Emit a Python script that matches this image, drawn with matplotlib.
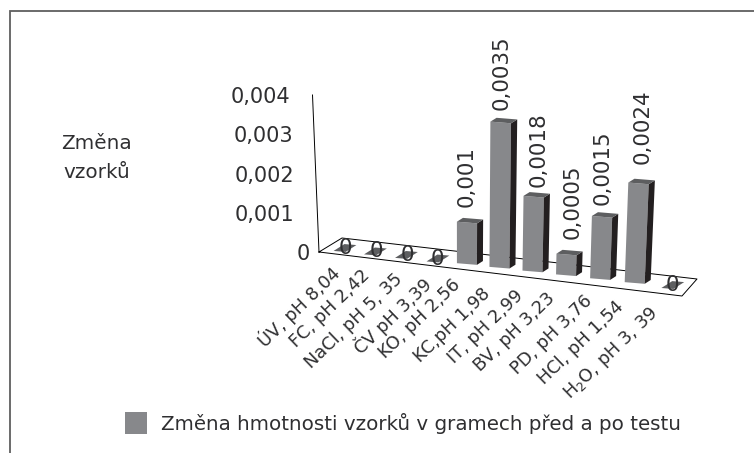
import matplotlib
matplotlib.use("Agg")
import matplotlib.pyplot as plt

categories = ["ÚV, pH 8,04", "FC, pH 2,42", "NaCl, pH 5, 35", "ČV pH 3,39", "KO, pH 2,56", "KC,pH 1,98",
              "IT, pH 2,99", "BV, pH 3,23", "PD, pH 3,76", "HCl, pH 1,54", "H$_2$O, pH 3, 39"]
values = [0, 0, 0, 0, 0.001, 0.0035, 0.0018, 0.0005, 0.0015, 0.0024, 0]
value_labels = ["0", "0", "0", "0", "0,001", "0,0035", "0,0018", "0,0005", "0,0015", "0,0024", "0"]
ticks = [0, 0.001, 0.002, 0.003, 0.004]
tick_labels = ["0", "0,001", "0,002", "0,003", "0,004"]
legend_label = "Změna hmotnosti vzorků v gramech před a po testu"
axis_label = "Změna\nvzorků"

FRONT = "#87888b"
TOP = "#5d5e60"
SIDE = "#231f20"
INK = "#2f2f31"

plt.rcParams["font.family"] = "DejaVu Sans"
plt.rcParams["mathtext.default"] = "regular"

fig = plt.figure(figsize=(7.54, 4.53), dpi=100)
ax = fig.add_axes([0, 0, 1, 1])
ax.set_xlim(0, 754)
ax.set_ylim(453, 0)
ax.axis("off")


# fake 3D: category + value + depth -> picture position
def proj(i, v=0, w=0, d=0):
    x = 345 + 30.2 * i + 0.258 * i * i + w * 10 + d * 3
    y = 248 + 0.113 * (x - 345) - (w * 0.3 + d * 2.25)
    h = v / 0.001 * 41.5
    return x + 0.00022 * (x - 460) * h, y - h


def face(points, color):
    ax.fill([p[0] for p in points], [p[1] for p in points], color=color, lw=0, zorder=3)


# frame
ax.plot([10, 10, 754], [453, 11, 11], color="#5f5f5f", lw=1.3, solid_joinstyle="miter")

# floor and wall line
ax.plot([319, 342, 697, 682, 319], [252, 238, 279, 296, 252], color="black", lw=0.7, zorder=2)
ax.plot([319, 312.5], [252, 95], color="black", lw=0.7, zorder=2)

# bars
for i, v in enumerate(values):
    if v == 0:
        face([proj(i, 0, -0.6, -1.8), proj(i, 0, 0.6, -1.8), proj(i, 0, 0.6, 1.8), proj(i, 0, -0.6, 1.8)], TOP)
    else:
        face([proj(i, 0, -1, -1), proj(i, 0, 1, -1), proj(i, v, 1, -1), proj(i, v, -1, -1)], FRONT)
        face([proj(i, 0, 1, -1), proj(i, 0, 1, 1), proj(i, v, 1, 1), proj(i, v, 1, -1)], SIDE)
        face([proj(i, v, -1, -1), proj(i, v, 1, -1), proj(i, v, 1, 1), proj(i, v, -1, 1)], TOP)

# value labels
label_dx = [0, 1, 1, -1, -3, -2, 2, 3, -2, 1, 0]
label_gap = [0, 0, 0, 0, 14, 11, 8, 14, 10, 17, 0]
for i, (v, lab) in enumerate(zip(values, value_labels)):
    x, y = proj(i, v)
    if v == 0:
        ax.text(x + label_dx[i], y, lab, ha="center", va="center", fontsize=15.4, color=INK, zorder=4)
    else:
        ax.text(x + label_dx[i], y - label_gap[i], lab, rotation=90, ha="center", va="bottom",
                fontsize=15.4, color=INK, zorder=4)

# value axis labels
tick_right = [310, 294, 294, 293, 290]
for t, lab, xr in zip(ticks, tick_labels, tick_right):
    ax.text(xr, 254 - t / 0.001 * 39.2, lab, ha="right", va="center", fontsize=15, color=INK)

ax.text(97, 158, axis_label, ha="center", va="center", fontsize=14.4, color=INK, linespacing=1.7)

# category labels
label_right = [344, 373, 406, 436, 464, 494, 527, 558, 596, 627, 663]
label_top = [262, 266, 270, 274, 276, 285, 287, 289, 292, 298, 303]
for lab, xr, yt in zip(categories, label_right, label_top):
    ax.text(xr, yt, lab, rotation=44, ha="right", va="top", fontsize=12.8, color=INK)

# legend
ax.fill([125, 147, 147, 125], [412, 412, 434, 434], color=FRONT, lw=0)
ax.text(161, 423, legend_label, ha="left", va="center", fontsize=14.3, color=INK)

fig.savefig("out.png", dpi=100)
